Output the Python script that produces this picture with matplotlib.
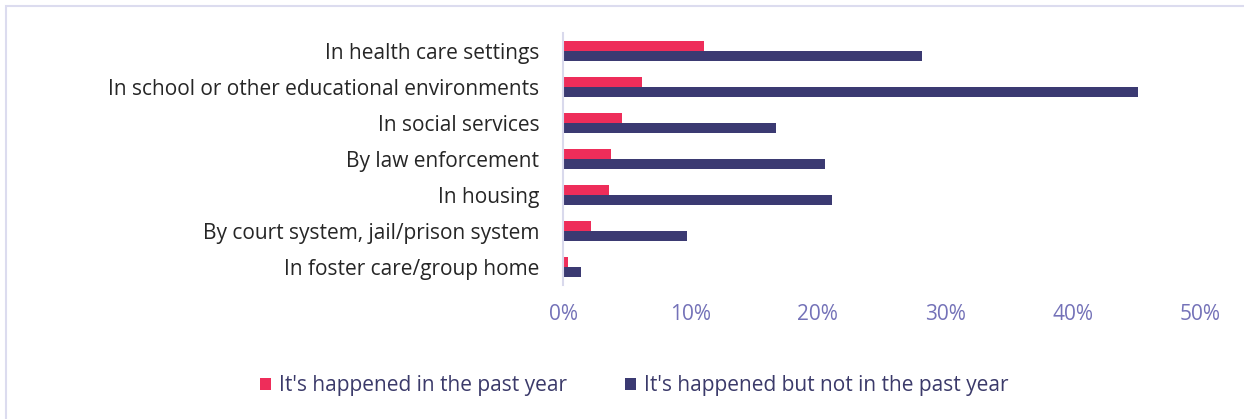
import matplotlib
matplotlib.use('Agg')
import matplotlib.pyplot as plt
from matplotlib.patches import Rectangle
import numpy as np

categories = [
    "In health care settings",
    "In school or other educational environments",
    "In social services",
    "By law enforcement",
    "In housing",
    "By court system, jail/prison system",
    "In foster care/group home",
]
past_year = [11.1, 6.2, 4.6, 3.8, 3.6, 2.2, 0.4]
not_past_year = [28.2, 45.1, 16.7, 20.6, 21.1, 9.7, 1.4]
series_labels = ["It's happened in the past year",
                 "It's happened but not in the past year"]
x_ticks = [0, 10, 20, 30, 40, 50]

RED = '#ee2d5a'
NAVY = '#3b3a72'
TICK_COLOR = '#7472b8'
TEXT_COLOR = '#262626'
LEGEND_TEXT = '#3b3a6a'
FS = 15

plt.rcParams['font.family'] = ['Open Sans', 'DejaVu Sans']

fig = plt.figure(figsize=(12.44, 4.19), dpi=100)
ax = fig.add_axes([0.4526, 0.320, 0.512, 0.601])

y = np.arange(len(categories))
h = 0.28
ax.barh(y - h / 2, past_year, height=h, color=RED, label=series_labels[0])
ax.barh(y + h / 2, not_past_year, height=h, color=NAVY, label=series_labels[1])

ax.set_ylim(len(categories) - 0.5, -0.5)
ax.set_xlim(0, 50)
ax.set_yticks(y)
ax.set_yticklabels(categories, fontsize=FS, color=TEXT_COLOR)
ax.set_xticks(x_ticks)
ax.set_xticklabels([f"{t}%" for t in x_ticks], fontsize=FS, color=TICK_COLOR)
ax.tick_params(axis='both', length=0)
ax.tick_params(axis='x', pad=14)
ax.tick_params(axis='y', pad=17)

for side in ['top', 'right', 'bottom']:
    ax.spines[side].set_visible(False)
ax.spines['left'].set_color('#d9d9ec')
ax.spines['left'].set_linewidth(1.5)

leg = fig.legend(loc='center', bbox_to_anchor=(0.51, 0.08), ncol=2, frameon=False,
                 fontsize=FS, handlelength=0.5, handleheight=0.5,
                 handletextpad=0.4, columnspacing=2.8)
for t in leg.get_texts():
    t.set_color(LEGEND_TEXT)

# thin frame line along the top and left edges
fig.add_artist(Rectangle((6 / 1244, -0.1), 1.2, 1.1 - 6 / 419, transform=fig.transFigure,
                         fill=False, edgecolor='#dcdcef', linewidth=1.5))

fig.savefig('out.png', dpi=100)
